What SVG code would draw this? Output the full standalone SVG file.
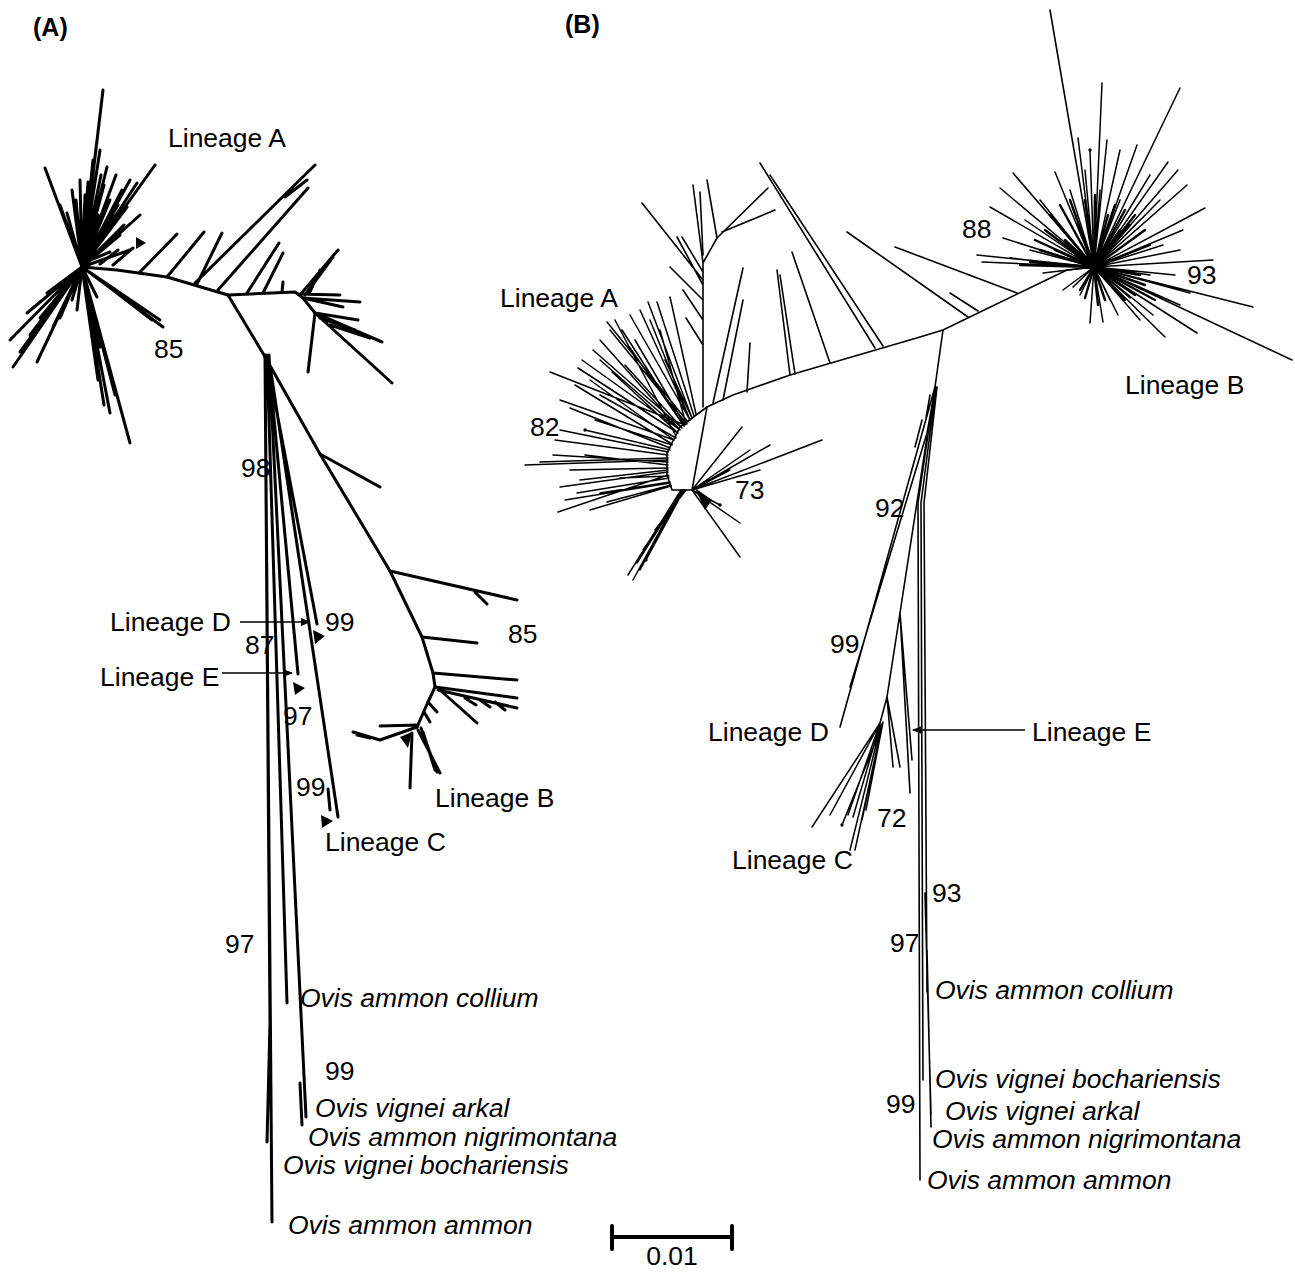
<svg xmlns="http://www.w3.org/2000/svg" width="1295" height="1272" viewBox="0 0 1295 1272">
<defs>
<style>
.a{fill:none;stroke:#000;stroke-width:3;stroke-linecap:round;stroke-linejoin:round}
.b{fill:none;stroke:#000;stroke-width:1.6;stroke-linecap:round;stroke-linejoin:round}
.bt{fill:none;stroke:#000;stroke-width:1.5;stroke-linecap:round;marker-end:url(#dot)}
.bd{fill:none;stroke:#000;stroke-width:2.4;stroke-linecap:round}
.t{font-family:"Liberation Sans",Arial,sans-serif;font-size:26.5px;fill:#000}
.i{font-style:italic}
.h{font-weight:bold;font-size:25px}
.tri{fill:#000}
.arr{fill:none;stroke:#000;stroke-width:1.6}
</style>
<marker id="dot" viewBox="0 0 4 4" refX="2" refY="2" markerWidth="2.2" markerHeight="2.2" markerUnits="strokeWidth"><circle cx="2" cy="2" r="2" fill="#000"/></marker>
<marker id="ah" viewBox="0 0 10 10" refX="9" refY="5" markerWidth="10" markerHeight="10" markerUnits="userSpaceOnUse" orient="auto"><path d="M0,1 L10,5 L0,9 Z" fill="#000"/></marker>
</defs>
<rect width="1295" height="1272" fill="#fff"/>

<g id="connectors">
<g id="treeA">
<path class="a" d="M82,267 L117,270 L167,277 L228,295 L295,292 L303,298 L315,313"/>
<path class="a" d="M82,267 L103,90 M82,267 L97,140 M82,267 L45,168 M82,267 L155,165 M82,267 L107,167 M82,267 L130,180 M82,267 L137,183 M82,267 L72,190 M82,267 L80,180 M82,267 L88,182 M82,267 L120,235 M82,267 L110,200 M82,267 L127,207 M82,267 L67,213 M82,267 L95,255 M82,267 L130,250 M82,267 L100,150 M82,267 L93,160 M82,267 L116,175 M82,267 L122,190 M82,267 L104,185 M82,267 L76,200 M82,267 L85,195 M82,267 L113,215 M82,267 L98,215 M82,267 L90,205 M82,267 L140,215 M82,267 L124,225 M82,267 L60,205 M82,267 L70,225 M82,267 L92,195 M82,267 L101,175 M82,267 L118,205 M82,267 L108,225 M82,267 L95,230"/>
<path class="a" d="M83,263 L110,252 M100,264 L118,250 M113,265 L133,248 M140,272 L177,234 M167,277 L204,232 M197,284 L222,233 M195,283 L315,165 M285,197 L307,180 M218,290 L308,188 M247,293 L279,243 M263,293 L283,253 M282,292 L283,282"/>
<polygon class="tri" points="136,237 146,243 136,249"/>
<path class="a" d="M82,267 L10,340 M82,267 L13,367 M82,267 L37,362 M82,267 L27,313 M82,267 L47,293 M82,267 L53,327 M82,267 L77,310 M82,267 L72,300 M82,267 L40,318 M82,267 L60,318 M82,267 L30,335 M82,267 L20,352"/>
<path class="a" d="M82,267 L130,443 M82,267 L110,413 M82,267 L110,373 M82,267 L100,347 M82,267 L93,313 M82,267 L104,405 M82,267 L115,395 M82,267 L98,380 M82,267 L106,360 M82,267 L96,335"/>
<path class="a" d="M82,267 L163,327 M82,267 L160,320 M82,267 L97,297 M100,280 L152,320 M82,267 L130,300"/>
<path class="a" d="M303,298 L360,302 M298,294 L340,295 M300,295 L338,250 M305,295 L333,257 M310,292 L320,270 M303,298 L343,307 M315,313 L358,320 M315,313 L382,342 M315,313 L392,383 M315,313 L308,372 M330,325 L370,338 M320,318 L355,330"/>
<path class="a" d="M228,295 L264,355 L320,454 L390,571 L422,637 L433,673 L435,687 L428,702 L417,727"/>
<path class="a" d="M320,454 L380,487 M390,571 L517,600 M475,592 L487,604 M422,637 L477,643 M433,673 L517,680 M435,687 L517,698 M438,690 L517,708 M465,698 L476,705 M480,700 L490,707 M495,702 L505,710 M440,690 L477,723 M428,702 L437,712 M424,712 L430,722"/>
<path class="a" d="M417,727 L380,740 L353,732 M357,735 L370,738 M418,725 L380,726 M412,733 L410,788 M418,730 L440,773 M421,728 L437,772 M423,732 L435,770"/>
<polygon class="tri" points="400,737 412,732 408,748"/>
<path class="a" d="M265,355 L272,1222 M265,357 L270,1023 L267,1142 M267,355 L287,1003 M269,355 L306,1117 M300,1083 L302,1125"/>
<path class="a" d="M267,360 L317,624 M269,365 L298,674 M271,372 L338,817 M328,789 L330,810"/>
<polygon class="tri" points="313,630 325,636 315,644"/>
<polygon class="tri" points="293,682 305,688 295,695"/>
<polygon class="tri" points="321,815 333,821 322,828"/>
</g>

<g id="treeB">
<path class="b" d="M707,407 L733,395 L790,375 L920,337 L943,330 L1067,270 L1094,267"/>
<path class="b" d="M707,407 L680,427 L667,453 L667,475 L672,490 L692,490 L707,407"/>
<path class="b" d="M703,407 L703,263 L717,238 L768,188 M722,232 L775,210 M717,238 L707,180 M703,263 L693,185 M703,255 L700,192 M703,280 L642,203 M703,285 L677,237 M703,300 L670,267 M703,320 L683,290 M703,345 L686,318 M703,272 L682,237"/>
<path class="b" d="M713,403 L743,268 M723,400 L743,300 M747,392 L750,343 M790,375 L777,270 M795,374 L780,275 M830,363 L792,252 M875,348 L760,163 M883,346 L770,175 M968,317 L847,232 M978,311 L950,293 M1017,293 L895,247"/>
<path class="bt" d="M685,425 L550,372 M688,422 L607,322 M690,420 L630,315 M692,418 L648,302 M694,416 L657,302 M696,414 L670,297 M682,428 L593,350 M680,430 L582,360 M678,433 L578,368 M676,436 L615,320 M684,426 L622,330 M690,420 L640,310 M680,430 L600,340 M687,424 L610,330 M685,425 L635,340 M680,430 L600,360 M674,440 L590,380 M672,444 L575,385 M670,448 L570,408 M668,452 L560,430 M668,455 L555,440 M668,460 L525,465 M668,462 L553,455 M668,465 L585,455 M668,468 L570,470 M668,472 L560,487 M668,475 L558,512 M669,478 L577,493 M670,482 L600,493 M671,485 L607,502 M670,483 L565,500 M671,486 L590,510 M668,458 L540,462 M668,470 L580,480 M669,476 L620,478 M676,438 L600,395 M672,445 L595,420 M674,440 L560,400 M682,428 L625,365 M686,424 L660,330 M692,418 L665,360 M684,426 L628,345 M678,433 L612,372 M690,420 L650,320 M670,450 L585,430"/>
<path class="bt" d="M682,490 L633,580 M683,490 L637,563 M684,490 L643,550 M685,490 L650,540 M681,490 L628,575 M683,490 L640,570 M686,490 L655,530 M684,490 L646,560"/>
<path class="bt" d="M692,490 L740,557 M692,490 L740,523 M692,490 L822,440 M692,490 L770,445 M692,490 L742,427 M692,490 L760,470 M692,490 L750,450 M692,490 L730,470 M692,490 L720,505"/>
<path class="tri" d="M695,488 L712,500 L705,510 Z"/>
<path class="b" d="M1094,267 L1050,10"/>
<path class="bt" d="M1094,267 L1102,83 M1094,267 L1180,88 M1094,267 L1078,138 M1094,267 L1107,140 M1094,267 L1137,145 M1094,267 L1013,173 M1094,267 L1055,172 M1094,267 L1168,162 M1094,267 L1178,170 M1094,267 L1187,185 M1094,267 L1205,208 M1094,267 L1000,188 M1094,267 L990,207 M1094,267 L1003,238 M1094,267 L977,255 M1094,267 L982,262 M1094,267 L1043,273 M1094,267 L1073,287 M1094,267 L1090,323 M1094,267 L1103,322 M1094,267 L1118,315 M1094,267 L1165,337 M1094,267 L1197,333 M1094,267 L1253,307 M1094,267 L1292,360 M1094,267 L1213,260 M1094,267 L1183,230 M1094,267 L1163,245 M1094,267 L1153,315 M1094,267 L1190,293 M1094,267 L1130,298 M1094,267 L1080,295 M1094,267 L1120,150 M1094,267 L1150,175 M1094,267 L1160,200 M1094,267 L1085,170 M1094,267 L1070,190 M1094,267 L1040,200 M1094,267 L1025,220 M1094,267 L1030,250 M1094,267 L1010,258 M1094,267 L1140,220 M1094,267 L1120,200 M1094,267 L1175,275 M1094,267 L1150,275 M1094,267 L1180,305 M1094,267 L1140,320 M1094,267 L1110,300 M1094,267 L1063,290 M1094,267 L1180,250 M1094,267 L1060,225 M1094,267 L1100,190 M1094,267 L1090,150"/>
<path class="bd" d="M1094,267 L1050,215 M1094,267 L1060,205 M1094,267 L1070,200 M1094,267 L1045,230 M1094,267 L1035,240 M1094,267 L1040,250 M1094,267 L1085,200 M1094,267 L1095,195 M1094,267 L1115,205 M1094,267 L1125,210 M1094,267 L1135,215 M1094,267 L1145,230 M1094,267 L1130,225 M1094,267 L1150,245 M1094,267 L1140,275 M1094,267 L1145,285 M1094,267 L1135,295 M1094,267 L1125,300 M1094,267 L1105,300 M1094,267 L1098,305 M1094,267 L1080,290 M1094,267 L1085,298 M1094,267 L1055,250 M1094,267 L1065,240 M1094,267 L1078,225 M1094,267 L1108,215 M1094,267 L1120,230 M1094,267 L1155,300 M1094,267 L1115,290 M1094,267 L1030,262 M1094,267 L1020,265"/>
<path class="b" d="M943,330 L935,387 L840,727 M935,390 L927,433 L850,687 M922,420 L915,447 M930,395 L926,418"/>
<path class="b" d="M935,387 L918,503 L920,1180 M936,387 L921,503 L923,1080 M937,387 L924,503 L927,992 M925,893 L931,1115 M927,950 L931,1127"/>
<path class="b" d="M927,437 L900,613 L887,697 L880,723 M900,613 L912,760 M900,613 L910,793 M887,697 L900,767 M887,697 L893,767"/>
<path class="bt" d="M880,723 L812,827 M880,723 L830,815 M880,723 L848,815 M880,725 L853,817 M881,725 L850,850 M882,725 L855,850 M882,724 L862,820 M883,722 L866,810 M882,726 L842,825"/>
</g>

<g id="pointers">
<line class="arr" x1="240" y1="622" x2="310" y2="622" marker-end="url(#ah)"/>
<line class="arr" x1="222" y1="673" x2="292" y2="673" marker-end="url(#ah)"/>
<line class="arr" x1="1025" y1="730" x2="913" y2="730" marker-end="url(#ah)"/>
</g>

<g id="scalebar">
<path d="M612,1237 L732,1237 M612,1226 L612,1249 M732,1226 L732,1249" stroke="#000" stroke-width="4" stroke-linecap="round" fill="none"/>
</g>
</g>

<g id="labels">
<text class="t h" x="33" y="36">(A)</text>
<text class="t h" x="565" y="33">(B)</text>
<g id="labelsA">
<text class="t" x="168" y="147">Lineage A</text>
<text class="t" x="154" y="358">85</text>
<text class="t" x="241" y="477">98</text>
<text class="t" x="110" y="631">Lineage D</text>
<text class="t" x="325" y="631">99</text>
<text class="t" x="508" y="643">85</text>
<text class="t" x="245" y="654">87</text>
<text class="t" x="100" y="686">Lineage E</text>
<text class="t" x="283" y="725">97</text>
<text class="t" x="296" y="796">99</text>
<text class="t" x="435" y="807">Lineage B</text>
<text class="t" x="325" y="851">Lineage C</text>
<text class="t" x="225" y="953">97</text>
<text class="t i" x="300" y="1007">Ovis ammon collium</text>
<text class="t" x="325" y="1080">99</text>
<text class="t i" x="315" y="1117">Ovis vignei arkal</text>
<text class="t i" x="308" y="1146">Ovis ammon nigrimontana</text>
<text class="t i" x="283" y="1174">Ovis vignei bochariensis</text>
<text class="t i" x="288" y="1234">Ovis ammon ammon</text>
</g>
<g id="labelsB">
<text class="t" x="962" y="238">88</text>
<text class="t" x="1187" y="284">93</text>
<text class="t" x="500" y="307">Lineage A</text>
<text class="t" x="1125" y="394">Lineage B</text>
<text class="t" x="530" y="436">82</text>
<text class="t" x="735" y="499">73</text>
<text class="t" x="875" y="517">92</text>
<text class="t" x="830" y="653">99</text>
<text class="t" x="708" y="741">Lineage D</text>
<text class="t" x="1032" y="741">Lineage E</text>
<text class="t" x="877" y="827">72</text>
<text class="t" x="732" y="869">Lineage C</text>
<text class="t" x="932" y="902">93</text>
<text class="t" x="890" y="952">97</text>
<text class="t i" x="935" y="999">Ovis ammon collium</text>
<text class="t i" x="935" y="1088">Ovis vignei bochariensis</text>
<text class="t" x="886" y="1113">99</text>
<text class="t i" x="945" y="1120">Ovis vignei arkal</text>
<text class="t i" x="932" y="1148">Ovis ammon nigrimontana</text>
<text class="t i" x="927" y="1189">Ovis ammon ammon</text>
</g>
<text class="t" x="672" y="1265" text-anchor="middle">0.01</text>
</g>
</svg>
